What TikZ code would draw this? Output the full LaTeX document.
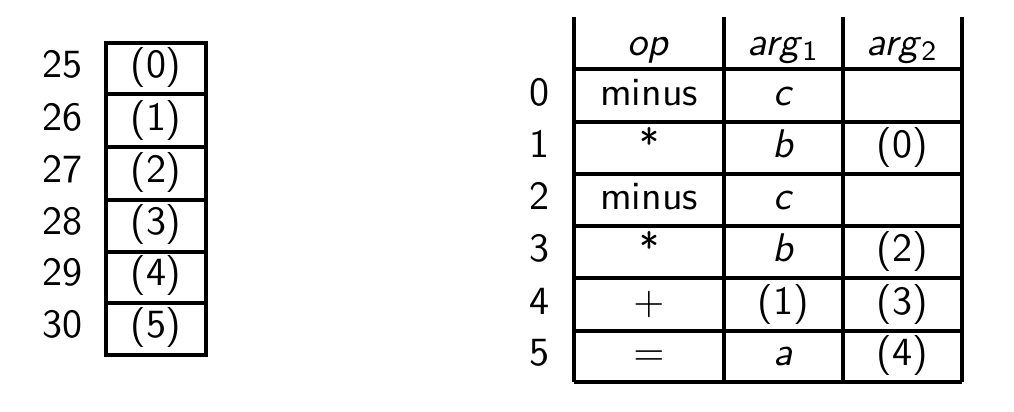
\documentclass[tikz,border=0pt]{standalone}
\usepackage{tikz}
\renewcommand{\familydefault}{\sfdefault}

\begin{document}
\begin{tikzpicture}[x=0.5pt, y=-0.5pt, line width=1.6pt,
        txt/.style={anchor=base, inner sep=0pt, scale=2, font=\fontsize{10}{12}\selectfont\sffamily}]
        \useasboundingbox (0,0) rectangle (1014,412);

        % stack of slots
        \coordinate (stackNW) at (106,43);
        \coordinate (stackSE) at (206,355);
        \draw (stackNW) rectangle (stackSE);
        \draw (106,94) -- (206,94);
        \draw (106,147) -- (206,147);
        \draw (106,200) -- (206,200);
        \draw (106,252) -- (206,252);
        \draw (106,303) -- (206,303);

        \node[txt] (addr25) at (62,77) {25};
        \node[txt] (addr26) at (62,130) {26};
        \node[txt] (addr27) at (62,182) {27};
        \node[txt] (addr28) at (62,234) {28};
        \node[txt] (addr29) at (62,285) {29};
        \node[txt] (addr30) at (62,337) {30};

        \node[txt] (slot0) at (156,77) {(0)};
        \node[txt] (slot1) at (156,130) {(1)};
        \node[txt] (slot2) at (156,182) {(2)};
        \node[txt] (slot3) at (156,234) {(3)};
        \node[txt] (slot4) at (156,285) {(4)};
        \node[txt] (slot5) at (156,337) {(5)};

        % triples table
        \draw (574,17) -- (574,382);
        \draw (724,17) -- (724,382);
        \draw (843,17) -- (843,382);
        \draw (962,17) -- (962,382);
        \draw (574,69) -- (962,69);
        \draw (574,122) -- (962,122);
        \draw (574,174) -- (962,174);
        \draw (574,226) -- (962,226);
        \draw (574,278) -- (962,278);
        \draw (574,331) -- (962,331);
        \draw (574,382) -- (962,382);

        \node[txt] (hop) at (649,55) {\textit{op}};
        \node[txt] (harg1) at (783.5,55) {\textit{arg}$_{\mathsf{1}}$};
        \node[txt] (harg2) at (902.5,55) {\textit{arg}$_{\mathsf{2}}$};

        \node[txt] (row0) at (539,105) {0};
        \node[txt] (row1) at (539,157) {1};
        \node[txt] (row2) at (539,209) {2};
        \node[txt] (row3) at (539,261) {3};
        \node[txt] (row4) at (539,314) {4};
        \node[txt] (row5) at (539,365) {5};

        \node[txt] (op0) at (649,105) {minus};
        \node[txt] (op1) at (649,157) {*};
        \node[txt] (op2) at (649,209) {minus};
        \node[txt] (op3) at (649,261) {*};
        \node[txt] (op4) at (649,314) {$+$};
        \node[txt] (op5) at (649,365) {$=$};

        \node[txt] (first0) at (783.5,105) {\textit{c}};
        \node[txt] (first1) at (783.5,157) {\textit{b}};
        \node[txt] (first2) at (783.5,209) {\textit{c}};
        \node[txt] (first3) at (783.5,261) {\textit{b}};
        \node[txt] (first4) at (783.5,314) {(1)};
        \node[txt] (first5) at (783.5,365) {\textit{a}};

        \node[txt] (second1) at (902.5,157) {(0)};
        \node[txt] (second3) at (902.5,261) {(2)};
        \node[txt] (second4) at (902.5,314) {(3)};
        \node[txt] (second5) at (902.5,365) {(4)};
    \end{tikzpicture}
\end{document}
